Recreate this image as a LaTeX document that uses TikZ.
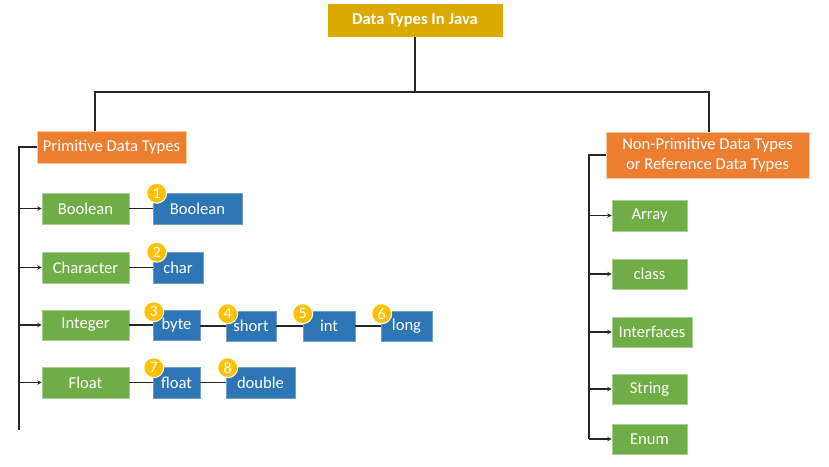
\documentclass[tikz,border=0pt]{standalone}
\usepackage{fontspec}
\setmainfont{Carlito}
\usetikzlibrary{arrows.meta}
\definecolor{goldc}{HTML}{DBA900}
\definecolor{orangec}{HTML}{ED7D31}
\definecolor{greenc}{HTML}{70AD47}
\definecolor{bluec}{HTML}{2E75B6}
\definecolor{badgec}{HTML}{FFC000}
\tikzset{
  box/.style={rectangle, inner sep=0pt, text=white, font=\fontsize{16.6}{20}\selectfont, align=center},
  titlebox/.style={box, fill=goldc, draw=white, line width=0.6pt, font=\fontsize{16.6}{20}\selectfont\bfseries},
  obox/.style={box, fill=orangec, draw=orange!40, line width=0.6pt},
  gbox/.style={box, fill=greenc, draw=greenc!60, line width=0.6pt},
  bbox/.style={box, fill=bluec, draw=bluec!70, line width=0.6pt},
  badge/.style={circle, fill=badgec, draw=white, line width=1pt, minimum size=20pt, inner sep=0pt, text=white, font=\fontsize{16}{16}\selectfont},
  conn/.style={line width=1.4pt, black!85},
  arr/.style={conn, -{Stealth[length=4.5pt,width=4.5pt]}},
}
\begin{document}
\begin{tikzpicture}[x=1pt,y=-1pt]
\useasboundingbox (0,0) rectangle (829,466);
% top
\node[titlebox, minimum width=176pt, minimum height=34pt] (title) at (415,20) {Data Types In Java};
\node[obox, minimum width=149pt, minimum height=32pt] (prim) at (111.5,147) {Primitive Data Types};
\node[obox, minimum width=203pt, minimum height=46pt] (nonprim) at (707.5,155) {Non-Primitive Data Types\\or Reference Data Types};
\coordinate (jl) at (95,92);
\coordinate (jr) at (709,92);
\draw[conn] (title.south) -- (title.south |- jl);
\draw[conn] (prim.north -| jl) -- (jl) -- (jr) -- (jr |- nonprim.north);
% primitive green
\node[gbox, minimum width=87pt, minimum height=31pt] (gbool) at (85.5,208.5) {Boolean};
\node[gbox, minimum width=87pt, minimum height=31pt] (gchar) at (85.5,267.5) {Character};
\node[gbox, minimum width=87pt, minimum height=30pt] (gint) at (85.5,325) {Integer};
\node[gbox, minimum width=87pt, minimum height=31pt] (gfloat) at (85.5,382.5) {Float};
% blue
\node[bbox, minimum width=89pt, minimum height=31pt] (bbool) at (197.5,208.5) {Boolean};
\node[bbox, minimum width=50pt, minimum height=31pt] (bchar) at (178,267.5) {char};
\node[bbox, minimum width=47pt, minimum height=30pt] (bbyte) at (176.5,325) {byte};
\node[bbox, minimum width=50pt, minimum height=30pt] (bshort) at (251,326) {short};
\node[bbox, minimum width=52pt, minimum height=30pt] (bint) at (329,326) {int};
\node[bbox, minimum width=51pt, minimum height=30pt] (blong) at (406.5,326) {long};
\node[bbox, minimum width=47pt, minimum height=31pt] (bfloat) at (176.5,382.5) {float};
\node[bbox, minimum width=69pt, minimum height=31pt] (bdouble) at (260.5,382.5) {double};
% spine left
\coordinate (ls) at (19,147);
\coordinate (lsb) at (19,430);
\draw[conn] (prim.west) -- (ls) -- (lsb);
\foreach \n in {gbool,gchar,gint,gfloat} \draw[arr] (ls |- \n.west) -- (\n.west);
% connectors
\draw[conn] (gbool.east) -- (bbool.west);
\draw[conn] (gchar.east) -- (bchar.west);
\draw[conn] (gint.east) -- (gint.east -| bbyte.west);
\draw[conn] (bshort.west -| bbyte.east) -- (bshort.west);
\draw[conn] (bshort.east) -- (bint.west);
\draw[conn] (bint.east) -- (blong.west);
\draw[conn] (gfloat.east) -- (bfloat.west);
\draw[conn] (bfloat.east) -- (bdouble.west);
% badges
\node[badge] (k1) at ([xshift=4pt,yshift=-0.5pt]bbool.north west) {1};
\node[badge] (k2) at ([xshift=4pt,yshift=-0.5pt]bchar.north west) {2};
\node[badge] (k3) at ([xshift=1pt,yshift=-2pt]bbyte.north west) {3};
\node[badge] (k4) at ([xshift=2pt,yshift=-3pt]bshort.north west) {4};
\node[badge] (k5) at ([xshift=0pt,yshift=-3pt]bint.north west) {5};
\node[badge] (k6) at ([xshift=1pt,yshift=-3pt]blong.north west) {6};
\node[badge] (k7) at ([xshift=1pt,yshift=-1pt]bfloat.north west) {7};
\node[badge] (k8) at ([xshift=2pt,yshift=-1pt]bdouble.north west) {8};
% right side
\node[gbox, minimum width=75pt, minimum height=31pt] (arr) at (649.5,215.5) {Array};
\node[gbox, minimum width=75pt, minimum height=30pt] (cls) at (649.5,274) {class};
\node[gbox, minimum width=80pt, minimum height=30pt] (itf) at (652,332) {Interfaces};
\node[gbox, minimum width=75pt, minimum height=30pt] (str) at (649.5,389) {String};
\node[gbox, minimum width=75pt, minimum height=30pt] (enm) at (649.5,439) {Enum};
\coordinate (rs) at (589,155);
\draw[conn] (nonprim.west) -- (rs) -- (rs |- enm.west);
\foreach \n in {arr,cls,itf,str,enm} \draw[arr] (rs |- \n.west) -- (\n.west);
\end{tikzpicture}
\end{document}
